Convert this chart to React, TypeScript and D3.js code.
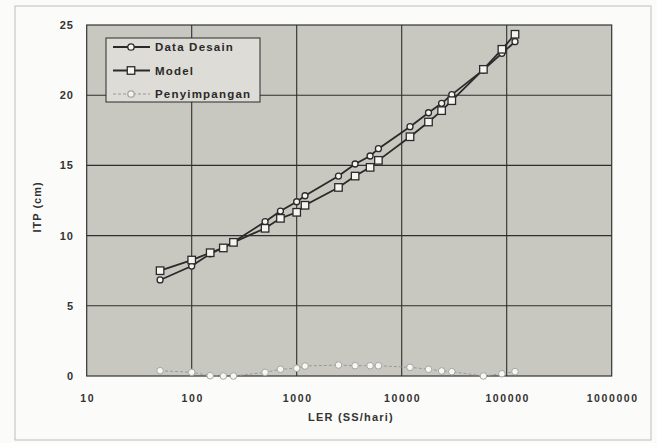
import React from "react";
import * as d3 from "d3";

const ler = [50, 100, 150, 200, 250, 500, 700, 1000, 1200, 2500, 3600, 5000, 6000, 12000, 18000, 24000, 30000, 60000, 90000, 120000];
const dataDesain = [6.84, 7.83, 8.7, 9.15, 9.55, 10.99, 11.75, 12.41, 12.84, 14.24, 15.1, 15.67, 16.19, 17.76, 18.75, 19.42, 20.04, 21.8, 22.98, 23.81];
const model = [7.5, 8.26, 8.78, 9.12, 9.52, 10.52, 11.23, 11.66, 12.16, 13.43, 14.24, 14.86, 15.36, 17.04, 18.09, 18.9, 19.61, 21.84, 23.27, 24.34];
const penyimpangan = [0.38, 0.26, 0.02, 0, 0, 0.26, 0.48, 0.55, 0.71, 0.78, 0.73, 0.73, 0.73, 0.62, 0.48, 0.36, 0.31, 0, 0.16, 0.31];

const xTicks = [10, 100, 1000, 10000, 100000, 1000000];
const yTicks = [0, 5, 10, 15, 20, 25];
const seriesNames = ["Data Desain", "Model", "Penyimpangan"];

const W = 657, H = 443;
const x = d3.scaleLog().domain([10, 1000000]).range([86.7, 611.7]);
const y = d3.scaleLinear().domain([0, 25]).range([376, 25]);

const font = "'Liberation Sans', Arial, sans-serif";

export default function App() {
  const line = (vals: number[]) =>
    d3.line<number>().x((_, i) => x(ler[i])).y((v) => y(v))(vals) || "";
  const [x0, x1] = x.range();
  const [y0, y1] = y.range();
  const sq = 7.5;
  return (
    <svg width={W} height={H} style={{ position: "absolute", left: 0, top: 0 }} fontFamily={font}>
      <rect x={0} y={0} width={W} height={H} fill="#fbfbf9" />
      <rect x={15} y={6} width={636} height={434} fill="none" stroke="#bdbdbd" strokeWidth={1} />
      <rect x={x0} y={y1} width={x1 - x0} height={y0 - y1} fill="#c9c8c0" />
      {yTicks.slice(1, -1).map((t) => (
        <line key={"gy" + t} x1={x0} x2={x1} y1={y(t)} y2={y(t)} stroke="#2e2e2e" strokeWidth={1.1} />
      ))}
      {xTicks.slice(1, -1).map((t) => (
        <line key={"gx" + t} x1={x(t)} x2={x(t)} y1={y1} y2={y0} stroke="#2e2e2e" strokeWidth={1.1} />
      ))}
      <rect x={x0} y={y1} width={x1 - x0} height={y0 - y1} fill="none" stroke="#333" strokeWidth={1.2} />
      {yTicks.map((t) => (
        <text key={"ty" + t} x={74} y={y(t) + 1} textAnchor="end" dominantBaseline="middle" fontSize={11} fontWeight="bold" letterSpacing={1} fill="#333">{t}</text>
      ))}
      {xTicks.map((t) => (
        <text key={"tx" + t} x={x(t) + 1} y={402} textAnchor="middle" fontSize={10.5} fontWeight="bold" letterSpacing={1.6} fill="#333">{t}</text>
      ))}
      <text x={351} y={421} textAnchor="middle" fontSize={11} fontWeight="bold" letterSpacing={1.2} fill="#333">LER (SS/hari)</text>
      <text transform={`translate(41,207) rotate(-90)`} textAnchor="middle" fontSize={11} fontWeight="bold" letterSpacing={1} fill="#333">ITP (cm)</text>

      {/* Penyimpangan */}
      <path d={line(penyimpangan)} fill="none" stroke="#999" strokeWidth={1} strokeDasharray="3,2" />
      {penyimpangan.map((v, i) => (
        <circle key={"p" + i} cx={x(ler[i])} cy={y(v)} r={3.3} fill="#f7f7f4" stroke="#a5a5a5" strokeWidth={1} />
      ))}
      {/* Model */}
      <path d={line(model)} fill="none" stroke="#2a2a2a" strokeWidth={1.8} />
      {/* Data Desain */}
      <path d={line(dataDesain)} fill="none" stroke="#2a2a2a" strokeWidth={1.8} />
      {dataDesain.map((v, i) => (
        <circle key={"d" + i} cx={x(ler[i])} cy={y(v)} r={3} fill="#f4f4f0" stroke="#2a2a2a" strokeWidth={1.3} />
      ))}
      {model.map((v, i) => (
        <rect key={"m" + i} x={x(ler[i]) - sq / 2} y={y(v) - sq / 2} width={sq} height={sq} fill="#f4f4f0" stroke="#2a2a2a" strokeWidth={1.3} />
      ))}

      {/* Legend */}
      <rect x={106} y={38} width={154} height={64} fill="#dedcd6" stroke="#2a2a2a" strokeWidth={1} />
      {seriesNames.map((name, i) => {
        const ly = 47 + i * 23.5;
        return (
          <g key={name}>
            <line x1={113} x2={150} y1={ly} y2={ly} stroke={i === 2 ? "#999" : "#2a2a2a"} strokeWidth={i === 2 ? 1 : 1.8} strokeDasharray={i === 2 ? "3,2" : undefined} />
            {i === 1 ? (
              <rect x={131 - sq / 2} y={ly - sq / 2} width={sq} height={sq} fill="#f4f4f0" stroke="#2a2a2a" strokeWidth={1.3} />
            ) : (
              <circle cx={131} cy={ly} r={3.2} fill="#f4f4f0" stroke={i === 2 ? "#a5a5a5" : "#2a2a2a"} strokeWidth={1.3} />
            )}
            <text x={155} y={ly + 4} fontSize={11.5} fontWeight="bold" letterSpacing={1.2} fill="#2a2a2a">{name}</text>
          </g>
        );
      })}
    </svg>
  );
}
